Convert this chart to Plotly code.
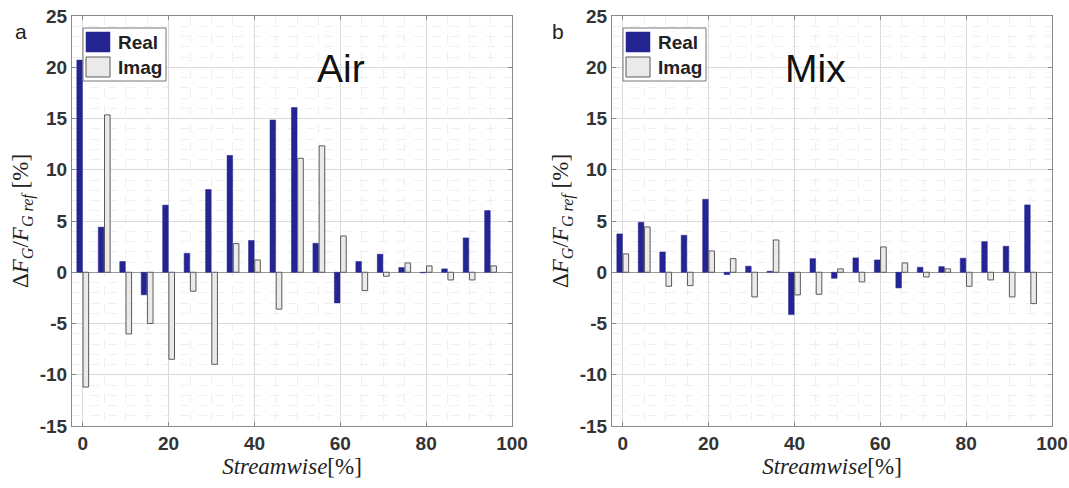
import plotly.graph_objects as go
from plotly.subplots import make_subplots

positions = [0, 5, 10, 15, 20, 25, 30, 35, 40, 45, 50, 55, 60, 65, 70, 75, 80, 85, 90, 95]

air_real = [20.7, 4.4, 1.05, -2.2, 6.55, 1.85, 8.07, 11.4, 3.1, 14.86, 16.07, 2.83, -3.0, 1.05, 1.76, 0.46, -0.05, 0.33, 3.35, 6.02]
air_imag = [-11.2, 15.35, -6.02, -5.0, -8.49, -1.85, -8.98, 2.8, 1.2, -3.6, 11.12, 12.33, 3.54, -1.79, -0.39, 0.91, 0.62, -0.75, -0.75, 0.62]

mix_real = [3.74, 4.88, 1.98, 3.61, 7.12, -0.23, 0.59, 0.1, -4.13, 1.33, -0.59, 1.4, 1.2, -1.53, 0.49, 0.55, 1.37, 2.99, 2.54, 6.57]
mix_imag = [1.79, 4.42, -1.37, -1.3, 2.08, 1.33, -2.41, 3.15, -2.21, -2.15, 0.33, -0.94, 2.47, 0.91, -0.46, 0.33, -1.37, -0.75, -2.41, -3.06]

x_ticks = [0, 20, 40, 60, 80, 100]
y_ticks = [-15, -10, -5, 0, 5, 10, 15, 20, 25]
series_names = ["Real", "Imag"]

W, H = 1069, 488
REAL_COLOR = "rgb(36,36,146)"
IMAG_COLOR = "rgb(236,233,233)"
IMAG_EDGE = "rgb(90,90,90)"


def px(x):
    return x / W


def py(y):
    return 1 - y / H


fig = make_subplots(rows=1, cols=2)

fig.add_trace(go.Bar(x=positions, y=air_real, name=series_names[0], marker=dict(color=REAL_COLOR, line=dict(color=REAL_COLOR, width=0.5))), row=1, col=1)
fig.add_trace(go.Bar(x=positions, y=air_imag, name=series_names[1], marker=dict(color=IMAG_COLOR, line=dict(color=IMAG_EDGE, width=1))), row=1, col=1)
fig.add_trace(go.Bar(x=positions, y=mix_real, name=series_names[0], marker=dict(color=REAL_COLOR, line=dict(color=REAL_COLOR, width=0.5))), row=1, col=2)
fig.add_trace(go.Bar(x=positions, y=mix_imag, name=series_names[1], marker=dict(color=IMAG_COLOR, line=dict(color=IMAG_EDGE, width=1))), row=1, col=2)

tickfont = dict(family="Liberation Sans, Arial", size=19, color="#333333", weight="bold")

left_dom = [px(72), px(512)]
right_dom = [px(612), px(1052)]
y_dom = [py(426), py(16)]

axis_common = dict(
    showline=True, linecolor="#8a8a8a", linewidth=1, mirror="ticks",
    ticks="inside", ticklen=4, tickcolor="#8a8a8a",
    showgrid=True, gridcolor="#dadada", gridwidth=1,
    tickfont=tickfont, automargin=False,
)

xtitle = dict(text="<i>Streamwise</i>[%]", font=dict(family="Liberation Serif, DejaVu Serif", size=23, color="#222"), standoff=2)
ytitle = dict(text="Δ<i>F<sub>G</sub></i>/<i>F<sub>G ref</sub></i> [%]", font=dict(family="Liberation Serif, DejaVu Serif", size=23, color="#222"), standoff=4)

for i, dom in ((1, left_dom), (2, right_dom)):
    fig.update_xaxes(row=1, col=i, domain=dom, range=[-2.5, 100], tickvals=x_ticks, ticktext=[str(v) for v in x_ticks],
                     zeroline=False, title=xtitle,
                     minor=dict(dtick=5, tick0=0, showgrid=True, griddash="dash", gridcolor="#efefef", ticks=""),
                     **axis_common)
    fig.update_yaxes(row=1, col=i, domain=y_dom, range=[-15, 25], tickvals=y_ticks, ticktext=[str(v) for v in y_ticks],
                     zeroline=True, zerolinecolor="#9a9a9a", zerolinewidth=1, title=ytitle,
                     minor=dict(dtick=1, tick0=0, showgrid=True, griddash="dash", gridcolor="#f0f0f0", ticks=""),
                     **axis_common)

# legend boxes drawn as shapes (larger swatches like the reference)
shapes = []
annotations = []
for dx in (0, 540):
    shapes.append(dict(type="rect", xref="paper", yref="paper", x0=px(83 + dx), x1=px(166 + dx), y0=py(81), y1=py(28),
                       line=dict(color="#777777", width=1), fillcolor="white", layer="above"))
    shapes.append(dict(type="rect", xref="paper", yref="paper", x0=px(86 + dx), x1=px(110 + dx), y0=py(52), y1=py(32),
                       line=dict(color=REAL_COLOR, width=0.5), fillcolor=REAL_COLOR, layer="above"))
    shapes.append(dict(type="rect", xref="paper", yref="paper", x0=px(86 + dx), x1=px(110 + dx), y0=py(77), y1=py(57),
                       line=dict(color=IMAG_EDGE, width=1), fillcolor=IMAG_COLOR, layer="above"))
    for name, yc in zip(series_names, (42, 67)):
        annotations.append(dict(text=name, x=px(116 + dx), y=py(yc), xref="paper", yref="paper", showarrow=False,
                                xanchor="left", yanchor="middle",
                                font=dict(family="Liberation Sans, Arial", size=19, color="#222", weight="bold")))

annotations += [
    dict(text="Air", x=px(315), y=py(45), xref="paper", yref="paper", showarrow=False,
         font=dict(family="Liberation Sans, Arial", size=39, color="#111")),
    dict(text="Mix", x=px(848), y=py(45), xref="paper", yref="paper", showarrow=False,
         font=dict(family="Liberation Sans, Arial", size=39, color="#111")),
    dict(text="a", x=px(13), y=py(18), xref="paper", yref="paper", showarrow=False,
         font=dict(family="Liberation Sans, Arial", size=21, color="#222")),
    dict(text="b", x=px(558), y=py(18), xref="paper", yref="paper", showarrow=False,
         font=dict(family="Liberation Sans, Arial", size=21, color="#222")),
]

fig.update_layout(
    width=W, height=H,
    margin=dict(l=0, r=0, t=0, b=0, autoexpand=False),
    paper_bgcolor="white", plot_bgcolor="white",
    showlegend=False,
    barmode="group", bargap=0.42, bargroupgap=0.1,
    shapes=shapes,
    annotations=annotations,
)

fig.write_html("out.html", config={"displayModeBar": False},
               post_script="document.body.style.margin='0';document.body.style.padding='0';")
